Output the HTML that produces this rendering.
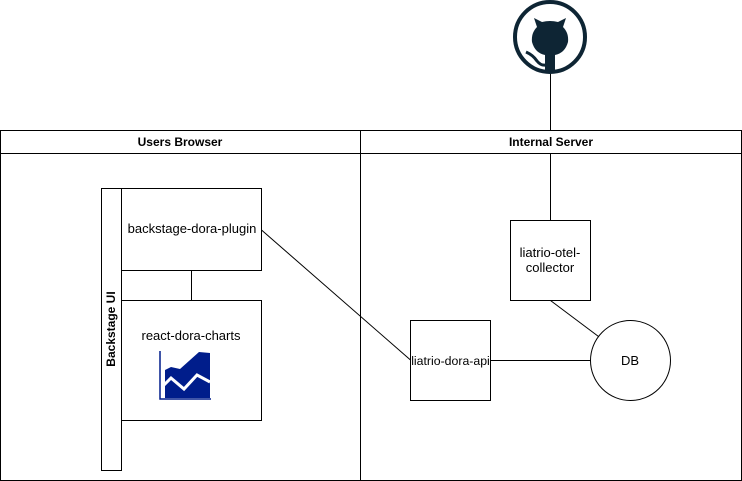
<!DOCTYPE html>
<html><head><meta charset="utf-8"><style>
html,body{margin:0;padding:0;background:#fff;}
svg{display:block;font-family:"Liberation Sans",Helvetica,Arial,sans-serif;}
</style></head><body>
<svg width="742" height="481" viewBox="0 0 742 481" xmlns="http://www.w3.org/2000/svg">
<g fill="none" stroke="#000" stroke-width="1">
<rect x="0.5" y="130.5" width="360" height="350"/>
<line x1="0.5" y1="153.5" x2="360.5" y2="153.5"/>
<rect x="360.5" y="130.5" width="381" height="350"/>
<line x1="360.5" y1="153.5" x2="741.5" y2="153.5"/>
<line x1="550.5" y1="70" x2="550.5" y2="130"/>
<line x1="550.5" y1="153" x2="550.5" y2="220"/>
<rect x="101.5" y="188.5" width="20" height="282"/>
<rect x="121.5" y="188.5" width="140" height="82"/>
<rect x="121.5" y="300.5" width="140" height="120"/>
<line x1="191.5" y1="270.5" x2="191.5" y2="300.5"/>
<line x1="261.5" y1="230" x2="410.5" y2="360"/>
<rect x="410.5" y="320.5" width="80" height="80"/>
<rect x="510.5" y="220.5" width="80" height="80"/>
<circle cx="630.5" cy="360.5" r="40"/>
<line x1="490.5" y1="360.5" x2="590.5" y2="360.5"/>
<line x1="550.5" y1="300.5" x2="598.5" y2="336.5"/>
</g>
<g font-size="12" font-weight="bold" text-anchor="middle">
<text x="180" y="146">Users Browser</text>
<text x="551" y="146">Internal Server</text>
<text transform="translate(115,329) rotate(-90)">Backstage UI</text>
</g>
<g font-size="13" text-anchor="middle">
<text x="192" y="233">backstage-dora-plugin</text>
<text x="191" y="340">react-dora-charts</text>
<text x="450.5" y="365" font-size="12.3">liatrio-dora-api</text>
<text x="550" y="257">liatrio-otel-</text>
<text x="550" y="272">collector</text>
<text x="630" y="365">DB</text>
</g>
<g>
<path d="M160 351 V399 H211" fill="none" stroke="#001d8b" stroke-width="1.5"/>
<path d="M165 396 V370 L171 367 L180 369 L199 352 L210 353 V398 H165 Z" fill="#001d8b"/>
<path d="M164 385 L171 378 L184 389 L197 375 L210 382" fill="none" stroke="#fff" stroke-width="3"/>
</g>
<g>
<circle cx="550" cy="37" r="35" fill="none" stroke="#0e2534" stroke-width="4"/>
<path d="M534 18 L537 27 Q531 33 532 42 Q535 53 545 55 V72 H555 V55 Q565 53 568 42 Q569 33 563 27 L566 18 L558 22 Q550 20 542 22 Z" fill="#0e2534"/>
<path d="M526 52 Q533 55 537 61 Q541 66 546 65" fill="none" stroke="#0e2534" stroke-width="3"/>
</g>
</svg>
</body></html>
